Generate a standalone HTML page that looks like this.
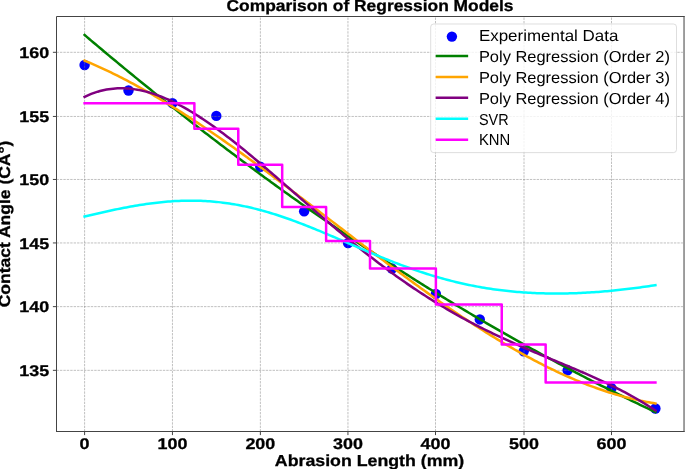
<!DOCTYPE html>
<html lang="en">
<head>
<meta charset="utf-8">
<title>Comparison of Regression Models</title>
<style>
html,body{margin:0;padding:0;background:#fff;}
body{width:685px;height:469px;overflow:hidden;}
svg{display:block;will-change:transform;}
text{font-family:"Liberation Sans",sans-serif;fill:#000;text-rendering:geometricPrecision;}
.b{font-weight:bold;}
.tick{font-size:15.5px;font-weight:bold;stroke:#000;stroke-width:0.3px;}
.lab{font-size:15.9px;font-weight:bold;stroke:#000;stroke-width:0.3px;}
.leg{font-size:15.9px;}
</style>
</head>
<body>
<svg width="685" height="469" viewBox="0 0 685 469">
<rect x="0" y="0" width="685" height="469" fill="#ffffff"/>
<defs><clipPath id="ax"><rect x="56.5" y="16.5" width="627.60" height="415.00"/></clipPath></defs>

<g fill="#0000ff">
<circle cx="84.60" cy="65.02" r="5.2"/>
<circle cx="128.51" cy="90.46" r="5.2"/>
<circle cx="172.42" cy="103.18" r="5.2"/>
<circle cx="216.33" cy="115.91" r="5.2"/>
<circle cx="260.24" cy="166.79" r="5.2"/>
<circle cx="304.15" cy="211.31" r="5.2"/>
<circle cx="348.06" cy="243.12" r="5.2"/>
<circle cx="391.97" cy="268.56" r="5.2"/>
<circle cx="435.88" cy="294.00" r="5.2"/>
<circle cx="479.79" cy="319.44" r="5.2"/>
<circle cx="523.70" cy="351.24" r="5.2"/>
<circle cx="567.61" cy="370.32" r="5.2"/>
<circle cx="611.52" cy="388.13" r="5.2"/>
<circle cx="655.43" cy="408.49" r="5.2"/>
</g>
<g stroke="#808080" stroke-opacity="0.8" stroke-width="0.625" stroke-dasharray="2.4 1.03" fill="none">
<line x1="84.60" y1="431.5" x2="84.60" y2="16.5"/>
<line x1="172.45" y1="431.5" x2="172.45" y2="16.5"/>
<line x1="260.36" y1="431.5" x2="260.36" y2="16.5"/>
<line x1="347.95" y1="431.5" x2="347.95" y2="16.5"/>
<line x1="435.50" y1="431.5" x2="435.50" y2="16.5"/>
<line x1="524.00" y1="431.5" x2="524.00" y2="16.5"/>
<line x1="611.50" y1="431.5" x2="611.50" y2="16.5"/>
<line x1="56.5" y1="370.33" x2="684.1" y2="370.33"/>
<line x1="56.5" y1="306.63" x2="684.1" y2="306.63"/>
<line x1="56.5" y1="242.95" x2="684.1" y2="242.95"/>
<line x1="56.5" y1="179.46" x2="684.1" y2="179.46"/>
<line x1="56.5" y1="116.45" x2="684.1" y2="116.45"/>
<line x1="56.5" y1="52.30" x2="684.1" y2="52.30"/>
</g>
<g fill="none" stroke-width="2.5" stroke-linejoin="round" stroke-linecap="square" clip-path="url(#ax)">
<path d="M84.60,34.98 L86.80,36.85 L88.99,38.72 L91.19,40.58 L93.38,42.43 L95.58,44.29 L97.77,46.14 L99.97,47.99 L102.16,49.83 L104.36,51.67 L106.55,53.51 L108.75,55.34 L110.95,57.18 L113.14,59.00 L115.34,60.83 L117.53,62.65 L119.73,64.47 L121.92,66.28 L124.12,68.10 L126.31,69.91 L128.51,71.71 L130.71,73.51 L132.90,75.31 L135.10,77.11 L137.29,78.90 L139.49,80.69 L141.68,82.48 L143.88,84.26 L146.07,86.04 L148.27,87.82 L150.46,89.59 L152.66,91.36 L154.86,93.13 L157.05,94.89 L159.25,96.66 L161.44,98.41 L163.64,100.17 L165.83,101.92 L168.03,103.67 L170.22,105.41 L172.42,107.15 L174.62,108.89 L176.81,110.63 L179.01,112.36 L181.20,114.09 L183.40,115.81 L185.59,117.53 L187.79,119.25 L189.98,120.97 L192.18,122.68 L194.38,124.39 L196.57,126.10 L198.77,127.80 L200.96,129.50 L203.16,131.19 L205.35,132.89 L207.55,134.58 L209.74,136.26 L211.94,137.95 L214.13,139.63 L216.33,141.31 L218.53,142.98 L220.72,144.65 L222.92,146.32 L225.11,147.98 L227.31,149.64 L229.50,151.30 L231.70,152.96 L233.89,154.61 L236.09,156.26 L238.28,157.90 L240.48,159.54 L242.68,161.18 L244.87,162.82 L247.07,164.45 L249.26,166.08 L251.46,167.70 L253.65,169.32 L255.85,170.94 L258.04,172.56 L260.24,174.17 L262.44,175.78 L264.63,177.39 L266.83,178.99 L269.02,180.59 L271.22,182.19 L273.41,183.78 L275.61,185.37 L277.80,186.96 L280.00,188.54 L282.19,190.12 L284.39,191.70 L286.59,193.28 L288.78,194.85 L290.98,196.41 L293.17,197.98 L295.37,199.54 L297.56,201.10 L299.76,202.65 L301.95,204.20 L304.15,205.75 L306.35,207.30 L308.54,208.84 L310.74,210.38 L312.93,211.92 L315.13,213.45 L317.32,214.98 L319.52,216.50 L321.71,218.03 L323.91,219.54 L326.11,221.06 L328.30,222.57 L330.50,224.08 L332.69,225.59 L334.89,227.09 L337.08,228.59 L339.28,230.09 L341.47,231.59 L343.67,233.08 L345.86,234.56 L348.06,236.05 L350.26,237.53 L352.45,239.01 L354.65,240.48 L356.84,241.95 L359.04,243.42 L361.23,244.88 L363.43,246.35 L365.62,247.80 L367.82,249.26 L370.01,250.71 L372.21,252.16 L374.41,253.61 L376.60,255.05 L378.80,256.49 L380.99,257.92 L383.19,259.36 L385.38,260.79 L387.58,262.21 L389.77,263.63 L391.97,265.05 L394.17,266.47 L396.36,267.88 L398.56,269.29 L400.75,270.70 L402.95,272.10 L405.14,273.51 L407.34,274.90 L409.53,276.30 L411.73,277.69 L413.92,279.08 L416.12,280.46 L418.32,281.84 L420.51,283.22 L422.71,284.59 L424.90,285.96 L427.10,287.33 L429.29,288.70 L431.49,290.06 L433.68,291.42 L435.88,292.77 L438.08,294.13 L440.27,295.48 L442.47,296.82 L444.66,298.16 L446.86,299.50 L449.05,300.84 L451.25,302.17 L453.44,303.50 L455.64,304.83 L457.84,306.15 L460.03,307.47 L462.23,308.79 L464.42,310.10 L466.62,311.41 L468.81,312.72 L471.01,314.02 L473.20,315.32 L475.40,316.62 L477.59,317.92 L479.79,319.21 L481.99,320.50 L484.18,321.78 L486.38,323.06 L488.57,324.34 L490.77,325.62 L492.96,326.89 L495.16,328.16 L497.35,329.42 L499.55,330.68 L501.75,331.94 L503.94,333.20 L506.14,334.45 L508.33,335.70 L510.53,336.95 L512.72,338.19 L514.92,339.43 L517.11,340.66 L519.31,341.90 L521.50,343.13 L523.70,344.35 L525.90,345.58 L528.09,346.80 L530.29,348.02 L532.48,349.23 L534.68,350.44 L536.87,351.65 L539.07,352.85 L541.26,354.05 L543.46,355.25 L545.65,356.45 L547.85,357.64 L550.05,358.83 L552.24,360.01 L554.44,361.19 L556.63,362.37 L558.83,363.55 L561.02,364.72 L563.22,365.89 L565.41,367.05 L567.61,368.21 L569.81,369.37 L572.00,370.53 L574.20,371.68 L576.39,372.83 L578.59,373.98 L580.78,375.12 L582.98,376.26 L585.17,377.40 L587.37,378.53 L589.56,379.66 L591.76,380.79 L593.96,381.91 L596.15,383.03 L598.35,384.15 L600.54,385.27 L602.74,386.38 L604.93,387.48 L607.13,388.59 L609.32,389.69 L611.52,390.79 L613.72,391.88 L615.91,392.98 L618.11,394.06 L620.30,395.15 L622.50,396.23 L624.69,397.31 L626.89,398.39 L629.08,399.46 L631.28,400.53 L633.48,401.59 L635.67,402.66 L637.87,403.71 L640.06,404.77 L642.26,405.82 L644.45,406.87 L646.65,407.92 L648.84,408.96 L651.04,410.00 L653.23,411.04 L655.43,412.08" stroke="#008000"/>
<path d="M84.60,60.66 L86.80,61.57 L88.99,62.49 L91.19,63.43 L93.38,64.39 L95.58,65.36 L97.77,66.34 L99.97,67.33 L102.16,68.34 L104.36,69.35 L106.55,70.39 L108.75,71.43 L110.95,72.49 L113.14,73.56 L115.34,74.64 L117.53,75.73 L119.73,76.84 L121.92,77.96 L124.12,79.09 L126.31,80.23 L128.51,81.38 L130.71,82.55 L132.90,83.72 L135.10,84.91 L137.29,86.11 L139.49,87.31 L141.68,88.53 L143.88,89.76 L146.07,91.00 L148.27,92.25 L150.46,93.52 L152.66,94.79 L154.86,96.07 L157.05,97.36 L159.25,98.66 L161.44,99.97 L163.64,101.29 L165.83,102.62 L168.03,103.96 L170.22,105.31 L172.42,106.67 L174.62,108.03 L176.81,109.41 L179.01,110.79 L181.20,112.18 L183.40,113.58 L185.59,114.99 L187.79,116.41 L189.98,117.83 L192.18,119.27 L194.38,120.71 L196.57,122.16 L198.77,123.61 L200.96,125.08 L203.16,126.55 L205.35,128.03 L207.55,129.51 L209.74,131.00 L211.94,132.50 L214.13,134.01 L216.33,135.52 L218.53,137.04 L220.72,138.57 L222.92,140.10 L225.11,141.64 L227.31,143.18 L229.50,144.73 L231.70,146.28 L233.89,147.84 L236.09,149.41 L238.28,150.98 L240.48,152.56 L242.68,154.14 L244.87,155.73 L247.07,157.32 L249.26,158.91 L251.46,160.52 L253.65,162.12 L255.85,163.73 L258.04,165.35 L260.24,166.96 L262.44,168.59 L264.63,170.21 L266.83,171.84 L269.02,173.47 L271.22,175.11 L273.41,176.75 L275.61,178.40 L277.80,180.04 L280.00,181.69 L282.19,183.34 L284.39,185.00 L286.59,186.66 L288.78,188.32 L290.98,189.98 L293.17,191.65 L295.37,193.31 L297.56,194.98 L299.76,196.66 L301.95,198.33 L304.15,200.00 L306.35,201.68 L308.54,203.36 L310.74,205.04 L312.93,206.72 L315.13,208.40 L317.32,210.08 L319.52,211.76 L321.71,213.45 L323.91,215.13 L326.11,216.81 L328.30,218.50 L330.50,220.18 L332.69,221.87 L334.89,223.55 L337.08,225.24 L339.28,226.92 L341.47,228.61 L343.67,230.29 L345.86,231.97 L348.06,233.65 L350.26,235.33 L352.45,237.01 L354.65,238.69 L356.84,240.37 L359.04,242.05 L361.23,243.72 L363.43,245.39 L365.62,247.06 L367.82,248.73 L370.01,250.40 L372.21,252.06 L374.41,253.73 L376.60,255.39 L378.80,257.04 L380.99,258.70 L383.19,260.35 L385.38,262.00 L387.58,263.65 L389.77,265.29 L391.97,266.93 L394.17,268.57 L396.36,270.20 L398.56,271.83 L400.75,273.45 L402.95,275.07 L405.14,276.69 L407.34,278.30 L409.53,279.91 L411.73,281.52 L413.92,283.12 L416.12,284.71 L418.32,286.30 L420.51,287.89 L422.71,289.47 L424.90,291.05 L427.10,292.62 L429.29,294.18 L431.49,295.74 L433.68,297.30 L435.88,298.84 L438.08,300.39 L440.27,301.92 L442.47,303.45 L444.66,304.98 L446.86,306.49 L449.05,308.00 L451.25,309.51 L453.44,311.01 L455.64,312.50 L457.84,313.98 L460.03,315.46 L462.23,316.93 L464.42,318.39 L466.62,319.84 L468.81,321.29 L471.01,322.73 L473.20,324.16 L475.40,325.59 L477.59,327.00 L479.79,328.41 L481.99,329.81 L484.18,331.20 L486.38,332.58 L488.57,333.95 L490.77,335.32 L492.96,336.67 L495.16,338.02 L497.35,339.36 L499.55,340.68 L501.75,342.00 L503.94,343.31 L506.14,344.61 L508.33,345.90 L510.53,347.18 L512.72,348.45 L514.92,349.71 L517.11,350.95 L519.31,352.19 L521.50,353.42 L523.70,354.64 L525.90,355.84 L528.09,357.04 L530.29,358.22 L532.48,359.40 L534.68,360.56 L536.87,361.71 L539.07,362.85 L541.26,363.97 L543.46,365.09 L545.65,366.19 L547.85,367.28 L550.05,368.36 L552.24,369.43 L554.44,370.49 L556.63,371.53 L558.83,372.56 L561.02,373.57 L563.22,374.58 L565.41,375.57 L567.61,376.55 L569.81,377.51 L572.00,378.46 L574.20,379.40 L576.39,380.32 L578.59,381.23 L580.78,382.13 L582.98,383.01 L585.17,383.88 L587.37,384.73 L589.56,385.57 L591.76,386.39 L593.96,387.20 L596.15,388.00 L598.35,388.78 L600.54,389.55 L602.74,390.30 L604.93,391.03 L607.13,391.75 L609.32,392.46 L611.52,393.14 L613.72,393.82 L615.91,394.47 L618.11,395.11 L620.30,395.74 L622.50,396.35 L624.69,396.94 L626.89,397.52 L629.08,398.08 L631.28,398.62 L633.48,399.14 L635.67,399.65 L637.87,400.14 L640.06,400.62 L642.26,401.08 L644.45,401.52 L646.65,401.94 L648.84,402.34 L651.04,402.73 L653.23,403.10 L655.43,403.45" stroke="#ffa500"/>
<path d="M84.60,96.86 L86.80,95.82 L88.99,94.85 L91.19,93.95 L93.38,93.13 L95.58,92.37 L97.77,91.68 L99.97,91.06 L102.16,90.50 L104.36,90.01 L106.55,89.58 L108.75,89.22 L110.95,88.91 L113.14,88.67 L115.34,88.49 L117.53,88.37 L119.73,88.30 L121.92,88.29 L124.12,88.34 L126.31,88.44 L128.51,88.59 L130.71,88.80 L132.90,89.06 L135.10,89.37 L137.29,89.73 L139.49,90.14 L141.68,90.59 L143.88,91.10 L146.07,91.65 L148.27,92.24 L150.46,92.88 L152.66,93.57 L154.86,94.29 L157.05,95.06 L159.25,95.87 L161.44,96.72 L163.64,97.60 L165.83,98.53 L168.03,99.49 L170.22,100.49 L172.42,101.52 L174.62,102.59 L176.81,103.69 L179.01,104.83 L181.20,106.00 L183.40,107.20 L185.59,108.43 L187.79,109.69 L189.98,110.98 L192.18,112.30 L194.38,113.65 L196.57,115.02 L198.77,116.42 L200.96,117.84 L203.16,119.29 L205.35,120.77 L207.55,122.26 L209.74,123.78 L211.94,125.32 L214.13,126.88 L216.33,128.47 L218.53,130.07 L220.72,131.69 L222.92,133.33 L225.11,134.99 L227.31,136.66 L229.50,138.35 L231.70,140.06 L233.89,141.78 L236.09,143.51 L238.28,145.26 L240.48,147.03 L242.68,148.80 L244.87,150.59 L247.07,152.39 L249.26,154.20 L251.46,156.02 L253.65,157.85 L255.85,159.69 L258.04,161.54 L260.24,163.39 L262.44,165.25 L264.63,167.12 L266.83,169.00 L269.02,170.88 L271.22,172.77 L273.41,174.66 L275.61,176.56 L277.80,178.46 L280.00,180.37 L282.19,182.28 L284.39,184.19 L286.59,186.10 L288.78,188.01 L290.98,189.93 L293.17,191.84 L295.37,193.76 L297.56,195.67 L299.76,197.59 L301.95,199.50 L304.15,201.41 L306.35,203.32 L308.54,205.23 L310.74,207.14 L312.93,209.04 L315.13,210.94 L317.32,212.84 L319.52,214.73 L321.71,216.61 L323.91,218.50 L326.11,220.37 L328.30,222.25 L330.50,224.11 L332.69,225.97 L334.89,227.83 L337.08,229.67 L339.28,231.51 L341.47,233.35 L343.67,235.17 L345.86,236.99 L348.06,238.80 L350.26,240.60 L352.45,242.39 L354.65,244.18 L356.84,245.95 L359.04,247.72 L361.23,249.47 L363.43,251.22 L365.62,252.96 L367.82,254.68 L370.01,256.40 L372.21,258.11 L374.41,259.80 L376.60,261.49 L378.80,263.16 L380.99,264.82 L383.19,266.47 L385.38,268.11 L387.58,269.74 L389.77,271.36 L391.97,272.96 L394.17,274.56 L396.36,276.14 L398.56,277.71 L400.75,279.26 L402.95,280.81 L405.14,282.34 L407.34,283.86 L409.53,285.37 L411.73,286.86 L413.92,288.34 L416.12,289.81 L418.32,291.27 L420.51,292.72 L422.71,294.15 L424.90,295.57 L427.10,296.97 L429.29,298.37 L431.49,299.75 L433.68,301.12 L435.88,302.47 L438.08,303.82 L440.27,305.15 L442.47,306.47 L444.66,307.77 L446.86,309.07 L449.05,310.35 L451.25,311.62 L453.44,312.87 L455.64,314.12 L457.84,315.35 L460.03,316.57 L462.23,317.78 L464.42,318.98 L466.62,320.16 L468.81,321.34 L471.01,322.50 L473.20,323.65 L475.40,324.79 L477.59,325.93 L479.79,327.05 L481.99,328.15 L484.18,329.25 L486.38,330.34 L488.57,331.42 L490.77,332.49 L492.96,333.55 L495.16,334.60 L497.35,335.65 L499.55,336.68 L501.75,337.70 L503.94,338.72 L506.14,339.73 L508.33,340.73 L510.53,341.72 L512.72,342.71 L514.92,343.69 L517.11,344.66 L519.31,345.63 L521.50,346.59 L523.70,347.54 L525.90,348.49 L528.09,349.44 L530.29,350.38 L532.48,351.31 L534.68,352.24 L536.87,353.17 L539.07,354.09 L541.26,355.01 L543.46,355.93 L545.65,356.85 L547.85,357.76 L550.05,358.68 L552.24,359.59 L554.44,360.50 L556.63,361.41 L558.83,362.32 L561.02,363.24 L563.22,364.15 L565.41,365.07 L567.61,365.98 L569.81,366.90 L572.00,367.83 L574.20,368.75 L576.39,369.68 L578.59,370.62 L580.78,371.56 L582.98,372.50 L585.17,373.45 L587.37,374.41 L589.56,375.38 L591.76,376.35 L593.96,377.33 L596.15,378.32 L598.35,379.32 L600.54,380.32 L602.74,381.34 L604.93,382.37 L607.13,383.41 L609.32,384.46 L611.52,385.53 L613.72,386.61 L615.91,387.70 L618.11,388.81 L620.30,389.93 L622.50,391.07 L624.69,392.22 L626.89,393.40 L629.08,394.59 L631.28,395.79 L633.48,397.02 L635.67,398.27 L637.87,399.54 L640.06,400.82 L642.26,402.13 L644.45,403.47 L646.65,404.82 L648.84,406.20 L651.04,407.61 L653.23,409.04 L655.43,410.50" stroke="#800080"/>
<path d="M84.60,216.52 L86.80,216.00 L88.99,215.48 L91.19,214.97 L93.38,214.45 L95.58,213.95 L97.77,213.44 L99.97,212.94 L102.16,212.44 L104.36,211.95 L106.55,211.47 L108.75,210.99 L110.95,210.51 L113.14,210.04 L115.34,209.58 L117.53,209.13 L119.73,208.68 L121.92,208.25 L124.12,207.82 L126.31,207.40 L128.51,206.99 L130.71,206.58 L132.90,206.19 L135.10,205.81 L137.29,205.44 L139.49,205.08 L141.68,204.73 L143.88,204.40 L146.07,204.07 L148.27,203.76 L150.46,203.46 L152.66,203.18 L154.86,202.90 L157.05,202.65 L159.25,202.40 L161.44,202.17 L163.64,201.96 L165.83,201.76 L168.03,201.57 L170.22,201.41 L172.42,201.25 L174.62,201.12 L176.81,201.00 L179.01,200.89 L181.20,200.81 L183.40,200.74 L185.59,200.69 L187.79,200.65 L189.98,200.64 L192.18,200.64 L194.38,200.66 L196.57,200.70 L198.77,200.76 L200.96,200.83 L203.16,200.93 L205.35,201.04 L207.55,201.18 L209.74,201.33 L211.94,201.50 L214.13,201.69 L216.33,201.90 L218.53,202.12 L220.72,202.37 L222.92,202.64 L225.11,202.93 L227.31,203.23 L229.50,203.56 L231.70,203.90 L233.89,204.26 L236.09,204.64 L238.28,205.04 L240.48,205.46 L242.68,205.90 L244.87,206.36 L247.07,206.83 L249.26,207.32 L251.46,207.83 L253.65,208.36 L255.85,208.91 L258.04,209.47 L260.24,210.05 L262.44,210.65 L264.63,211.26 L266.83,211.89 L269.02,212.53 L271.22,213.20 L273.41,213.87 L275.61,214.56 L277.80,215.27 L280.00,215.99 L282.19,216.72 L284.39,217.47 L286.59,218.23 L288.78,219.01 L290.98,219.79 L293.17,220.59 L295.37,221.40 L297.56,222.22 L299.76,223.05 L301.95,223.89 L304.15,224.75 L306.35,225.61 L308.54,226.48 L310.74,227.35 L312.93,228.24 L315.13,229.13 L317.32,230.04 L319.52,230.94 L321.71,231.86 L323.91,232.78 L326.11,233.70 L328.30,234.63 L330.50,235.56 L332.69,236.50 L334.89,237.44 L337.08,238.38 L339.28,239.32 L341.47,240.27 L343.67,241.22 L345.86,242.17 L348.06,243.11 L350.26,244.06 L352.45,245.01 L354.65,245.96 L356.84,246.90 L359.04,247.85 L361.23,248.79 L363.43,249.72 L365.62,250.66 L367.82,251.59 L370.01,252.51 L372.21,253.44 L374.41,254.35 L376.60,255.26 L378.80,256.17 L380.99,257.07 L383.19,257.96 L385.38,258.85 L387.58,259.72 L389.77,260.60 L391.97,261.46 L394.17,262.31 L396.36,263.16 L398.56,264.00 L400.75,264.82 L402.95,265.64 L405.14,266.45 L407.34,267.25 L409.53,268.04 L411.73,268.82 L413.92,269.59 L416.12,270.35 L418.32,271.09 L420.51,271.83 L422.71,272.55 L424.90,273.26 L427.10,273.96 L429.29,274.65 L431.49,275.33 L433.68,275.99 L435.88,276.64 L438.08,277.28 L440.27,277.91 L442.47,278.53 L444.66,279.13 L446.86,279.72 L449.05,280.30 L451.25,280.86 L453.44,281.41 L455.64,281.95 L457.84,282.48 L460.03,282.99 L462.23,283.49 L464.42,283.98 L466.62,284.45 L468.81,284.91 L471.01,285.36 L473.20,285.80 L475.40,286.22 L477.59,286.63 L479.79,287.03 L481.99,287.41 L484.18,287.79 L486.38,288.15 L488.57,288.49 L490.77,288.83 L492.96,289.15 L495.16,289.46 L497.35,289.76 L499.55,290.05 L501.75,290.32 L503.94,290.58 L506.14,290.83 L508.33,291.07 L510.53,291.30 L512.72,291.52 L514.92,291.72 L517.11,291.91 L519.31,292.09 L521.50,292.26 L523.70,292.42 L525.90,292.57 L528.09,292.71 L530.29,292.83 L532.48,292.95 L534.68,293.05 L536.87,293.15 L539.07,293.23 L541.26,293.31 L543.46,293.37 L545.65,293.42 L547.85,293.47 L550.05,293.50 L552.24,293.52 L554.44,293.54 L556.63,293.54 L558.83,293.53 L561.02,293.52 L563.22,293.49 L565.41,293.46 L567.61,293.42 L569.81,293.36 L572.00,293.30 L574.20,293.23 L576.39,293.15 L578.59,293.06 L580.78,292.97 L582.98,292.86 L585.17,292.75 L587.37,292.62 L589.56,292.49 L591.76,292.35 L593.96,292.21 L596.15,292.05 L598.35,291.89 L600.54,291.72 L602.74,291.54 L604.93,291.35 L607.13,291.16 L609.32,290.95 L611.52,290.75 L613.72,290.53 L615.91,290.31 L618.11,290.08 L620.30,289.84 L622.50,289.59 L624.69,289.34 L626.89,289.09 L629.08,288.82 L631.28,288.55 L633.48,288.28 L635.67,287.99 L637.87,287.70 L640.06,287.41 L642.26,287.11 L644.45,286.81 L646.65,286.49 L648.84,286.18 L651.04,285.86 L653.23,285.53 L655.43,285.20" stroke="#00ffff"/>
<path d="M84.60,103.18 L194.38,103.18 L194.38,128.63 L238.28,128.63 L238.28,164.67 L282.19,164.67 L282.19,207.07 L326.11,207.07 L326.11,240.99 L370.01,240.99 L370.01,268.56 L435.88,268.56 L435.88,304.60 L501.75,304.60 L501.75,344.46 L545.65,344.46 L545.65,382.62 L655.43,382.62" stroke="#ff00ff"/>
</g>
<g stroke="#444" stroke-width="1" fill="none">
<line x1="84.60" y1="431.5" x2="84.60" y2="435.10"/>
<line x1="172.45" y1="431.5" x2="172.45" y2="435.10"/>
<line x1="260.36" y1="431.5" x2="260.36" y2="435.10"/>
<line x1="347.95" y1="431.5" x2="347.95" y2="435.10"/>
<line x1="435.50" y1="431.5" x2="435.50" y2="435.10"/>
<line x1="524.00" y1="431.5" x2="524.00" y2="435.10"/>
<line x1="611.50" y1="431.5" x2="611.50" y2="435.10"/>
<line x1="56.5" y1="370.33" x2="52.90" y2="370.33"/>
<line x1="56.5" y1="306.63" x2="52.90" y2="306.63"/>
<line x1="56.5" y1="242.95" x2="52.90" y2="242.95"/>
<line x1="56.5" y1="179.46" x2="52.90" y2="179.46"/>
<line x1="56.5" y1="116.45" x2="52.90" y2="116.45"/>
<line x1="56.5" y1="52.30" x2="52.90" y2="52.30"/>
</g>
<rect x="683.1" y="16.0" width="1.9" height="416.00" fill="#9a9a9a"/>
<path d="M56.5,431.5 L56.5,16.5 L684.1,16.5" stroke="#444" stroke-width="1" fill="none" stroke-linecap="square"/>
<path d="M56.5,431.5 L684.1,431.5" stroke="#444" stroke-width="1" fill="none" stroke-linecap="square"/>
<text class="tick" x="84.60" y="448.6" text-anchor="middle" textLength="10.0" lengthAdjust="spacingAndGlyphs">0</text>
<text class="tick" x="172.45" y="448.6" text-anchor="middle" textLength="29.9" lengthAdjust="spacingAndGlyphs">100</text>
<text class="tick" x="260.36" y="448.6" text-anchor="middle" textLength="29.9" lengthAdjust="spacingAndGlyphs">200</text>
<text class="tick" x="347.95" y="448.6" text-anchor="middle" textLength="29.9" lengthAdjust="spacingAndGlyphs">300</text>
<text class="tick" x="435.50" y="448.6" text-anchor="middle" textLength="29.9" lengthAdjust="spacingAndGlyphs">400</text>
<text class="tick" x="524.00" y="448.6" text-anchor="middle" textLength="29.9" lengthAdjust="spacingAndGlyphs">500</text>
<text class="tick" x="611.50" y="448.6" text-anchor="middle" textLength="29.9" lengthAdjust="spacingAndGlyphs">600</text>
<text class="tick" x="49.2" y="375.93" text-anchor="end" textLength="29.9" lengthAdjust="spacingAndGlyphs">135</text>
<text class="tick" x="49.2" y="312.23" text-anchor="end" textLength="29.9" lengthAdjust="spacingAndGlyphs">140</text>
<text class="tick" x="49.2" y="248.55" text-anchor="end" textLength="29.9" lengthAdjust="spacingAndGlyphs">145</text>
<text class="tick" x="49.2" y="185.06" text-anchor="end" textLength="29.9" lengthAdjust="spacingAndGlyphs">150</text>
<text class="tick" x="49.2" y="122.05" text-anchor="end" textLength="29.9" lengthAdjust="spacingAndGlyphs">155</text>
<text class="tick" x="49.2" y="57.90" text-anchor="end" textLength="29.9" lengthAdjust="spacingAndGlyphs">160</text>
<text class="lab" x="370" y="10.8" text-anchor="middle" textLength="287" lengthAdjust="spacingAndGlyphs">Comparison of Regression Models</text>
<text class="lab" x="369.5" y="466.3" text-anchor="middle" textLength="189.3" lengthAdjust="spacingAndGlyphs">Abrasion Length (mm)</text>
<text class="lab" transform="translate(9.8,224) rotate(-90)" x="0" y="0" text-anchor="middle" textLength="166.5" lengthAdjust="spacingAndGlyphs">Contact Angle (CA°)</text>
<rect x="430.7" y="24" width="245.8" height="128.6" rx="3" ry="3" fill="#fff" fill-opacity="0.8" stroke="#ccc" stroke-opacity="0.65" stroke-width="1"/>
<circle cx="451.9" cy="36.60" r="5.2" fill="#0000ff"/>
<line x1="436.9" y1="55.95" x2="466.9" y2="55.95" stroke="#008000" stroke-width="2.5" stroke-linecap="square"/>
<line x1="436.9" y1="76.90" x2="466.9" y2="76.90" stroke="#ffa500" stroke-width="2.5" stroke-linecap="square"/>
<line x1="436.9" y1="97.85" x2="466.9" y2="97.85" stroke="#800080" stroke-width="2.5" stroke-linecap="square"/>
<line x1="436.9" y1="118.80" x2="466.9" y2="118.80" stroke="#00ffff" stroke-width="2.5" stroke-linecap="square"/>
<line x1="436.9" y1="139.75" x2="466.9" y2="139.75" stroke="#ff00ff" stroke-width="2.5" stroke-linecap="square"/>
<text class="leg" x="478.9" y="40.70" textLength="139.5" lengthAdjust="spacingAndGlyphs">Experimental Data</text>
<text class="leg" x="478.9" y="61.65" textLength="191.0" lengthAdjust="spacingAndGlyphs">Poly Regression (Order 2)</text>
<text class="leg" x="478.9" y="82.60" textLength="191.0" lengthAdjust="spacingAndGlyphs">Poly Regression (Order 3)</text>
<text class="leg" x="478.9" y="103.55" textLength="191.0" lengthAdjust="spacingAndGlyphs">Poly Regression (Order 4)</text>
<text class="leg" x="478.9" y="124.50" textLength="29.7" lengthAdjust="spacingAndGlyphs">SVR</text>
<text class="leg" x="478.9" y="145.45" textLength="31.3" lengthAdjust="spacingAndGlyphs">KNN</text>
</svg>
</body>
</html>
